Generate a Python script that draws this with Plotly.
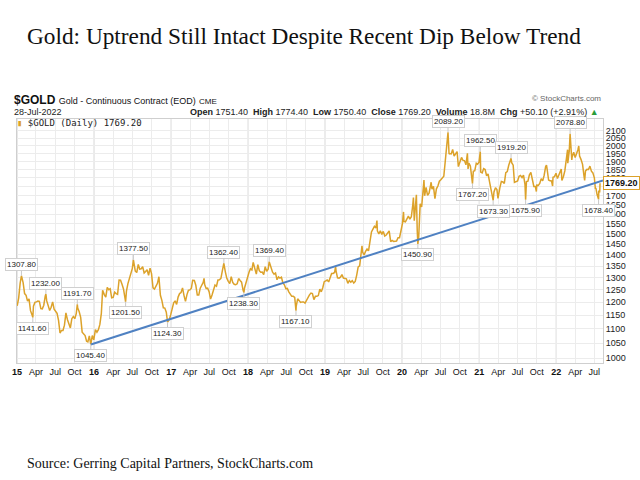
import plotly.graph_objects as go
import math

# ---------------- data ----------------
dates = [
 "2015-01-02","2015-01-09","2015-01-16","2015-01-22","2015-01-30","2015-02-06","2015-02-13","2015-02-20","2015-02-27",
 "2015-03-06","2015-03-13","2015-03-17","2015-03-20","2015-03-27","2015-04-03","2015-04-10","2015-04-17","2015-04-24",
 "2015-05-01","2015-05-08","2015-05-15","2015-05-18","2015-05-22","2015-05-29","2015-06-05","2015-06-12","2015-06-19",
 "2015-06-26","2015-07-03","2015-07-10","2015-07-17","2015-07-24","2015-07-31","2015-08-07","2015-08-14","2015-08-21",
 "2015-08-28","2015-09-04","2015-09-11","2015-09-18","2015-09-25","2015-10-02","2015-10-09","2015-10-14","2015-10-16",
 "2015-10-23","2015-10-30","2015-11-06","2015-11-13","2015-11-20","2015-11-27","2015-12-03","2015-12-10","2015-12-17",
 "2015-12-24","2015-12-31",
 "2016-01-08","2016-01-15","2016-01-22","2016-01-29","2016-02-05","2016-02-11","2016-02-19","2016-02-26","2016-03-04",
 "2016-03-11","2016-03-18","2016-03-25","2016-04-01","2016-04-08","2016-04-15","2016-04-22","2016-04-29","2016-05-06",
 "2016-05-13","2016-05-20","2016-05-30","2016-06-03","2016-06-10","2016-06-17","2016-06-24","2016-07-01","2016-07-06",
 "2016-07-08","2016-07-15","2016-07-22","2016-07-29","2016-08-05","2016-08-12","2016-08-19","2016-08-26","2016-09-02",
 "2016-09-09","2016-09-16","2016-09-23","2016-09-30","2016-10-07","2016-10-14","2016-10-21","2016-10-28","2016-11-04",
 "2016-11-11","2016-11-18","2016-11-25","2016-12-02","2016-12-09","2016-12-15","2016-12-23","2016-12-30",
 "2017-01-06","2017-01-13","2017-01-20","2017-01-27","2017-02-03","2017-02-10","2017-02-17","2017-02-24","2017-03-03",
 "2017-03-10","2017-03-17","2017-03-24","2017-03-31","2017-04-07","2017-04-13","2017-04-21","2017-04-28","2017-05-05",
 "2017-05-12","2017-05-19","2017-05-26","2017-06-02","2017-06-06","2017-06-09","2017-06-16","2017-06-23","2017-06-30",
 "2017-07-07","2017-07-14","2017-07-21","2017-07-28","2017-08-04","2017-08-11","2017-08-18","2017-08-25","2017-09-01",
 "2017-09-08","2017-09-15","2017-09-22","2017-09-29","2017-10-06","2017-10-13","2017-10-20","2017-10-27","2017-11-03",
 "2017-11-10","2017-11-17","2017-11-24","2017-12-01","2017-12-08","2017-12-12","2017-12-15","2017-12-22","2017-12-29",
 "2018-01-05","2018-01-12","2018-01-19","2018-01-25","2018-02-02","2018-02-09","2018-02-16","2018-02-23","2018-03-02",
 "2018-03-09","2018-03-16","2018-03-23","2018-03-30","2018-04-06","2018-04-11","2018-04-20","2018-04-27","2018-05-04",
 "2018-05-11","2018-05-18","2018-05-25","2018-06-01","2018-06-08","2018-06-15","2018-06-22","2018-06-29","2018-07-06",
 "2018-07-13","2018-07-20","2018-07-27","2018-08-03","2018-08-10","2018-08-16","2018-08-17","2018-08-24","2018-08-31",
 "2018-09-07","2018-09-14","2018-09-21","2018-09-28","2018-10-05","2018-10-12","2018-10-19","2018-10-26","2018-11-02",
 "2018-11-09","2018-11-16","2018-11-23","2018-11-30","2018-12-07","2018-12-14","2018-12-21","2018-12-28",
 "2019-01-04","2019-01-11","2019-01-18","2019-01-25","2019-02-01","2019-02-08","2019-02-15","2019-02-20","2019-02-22",
 "2019-03-01","2019-03-08","2019-03-15","2019-03-22","2019-03-29","2019-04-05","2019-04-12","2019-04-19","2019-04-26",
 "2019-05-03","2019-05-10","2019-05-17","2019-05-24","2019-05-31","2019-06-07","2019-06-14","2019-06-21","2019-06-25",
 "2019-06-28","2019-07-05","2019-07-12","2019-07-19","2019-07-26","2019-08-02","2019-08-09","2019-08-16","2019-08-23",
 "2019-08-30","2019-09-04","2019-09-06","2019-09-13","2019-09-20","2019-09-27","2019-10-04","2019-10-11","2019-10-18",
 "2019-10-25","2019-11-01","2019-11-08","2019-11-15","2019-11-22","2019-11-29","2019-12-06","2019-12-13","2019-12-20",
 "2019-12-27",
 "2020-01-03","2020-01-08","2020-01-10","2020-01-17","2020-01-24","2020-01-31","2020-02-07","2020-02-14","2020-02-21",
 "2020-02-24","2020-02-28","2020-03-06","2020-03-09","2020-03-13","2020-03-16","2020-03-20","2020-03-27","2020-04-03",
 "2020-04-09","2020-04-14","2020-04-17","2020-04-24","2020-05-01","2020-05-08","2020-05-15","2020-05-18","2020-05-22",
 "2020-05-29","2020-06-05","2020-06-12","2020-06-19","2020-06-26","2020-07-03","2020-07-10","2020-07-17","2020-07-24",
 "2020-07-31","2020-08-06","2020-08-11","2020-08-14","2020-08-21","2020-08-28","2020-09-04","2020-09-11","2020-09-18",
 "2020-09-24","2020-10-02","2020-10-09","2020-10-16","2020-10-23","2020-10-30","2020-11-06","2020-11-09","2020-11-13",
 "2020-11-20","2020-11-27","2020-11-30","2020-12-04","2020-12-11","2020-12-18","2020-12-24","2020-12-31",
 "2021-01-06","2021-01-08","2021-01-15","2021-01-22","2021-01-29","2021-02-05","2021-02-12","2021-02-19","2021-02-26",
 "2021-03-05","2021-03-08","2021-03-12","2021-03-19","2021-03-26","2021-03-31","2021-04-09","2021-04-16","2021-04-23",
 "2021-04-30","2021-05-07","2021-05-14","2021-05-21","2021-05-28","2021-06-01","2021-06-04","2021-06-11","2021-06-17",
 "2021-06-25","2021-07-02","2021-07-09","2021-07-16","2021-07-23","2021-07-30","2021-08-06","2021-08-09","2021-08-13",
 "2021-08-20","2021-08-27","2021-09-03","2021-09-10","2021-09-17","2021-09-24","2021-09-29","2021-10-01","2021-10-08",
 "2021-10-15","2021-10-22","2021-10-29","2021-11-05","2021-11-12","2021-11-16","2021-11-19","2021-11-26","2021-12-03",
 "2021-12-10","2021-12-15","2021-12-17","2021-12-24","2021-12-31",
 "2022-01-07","2022-01-14","2022-01-21","2022-01-25","2022-01-28","2022-02-04","2022-02-11","2022-02-18","2022-02-24",
 "2022-02-25","2022-03-04","2022-03-08","2022-03-11","2022-03-16","2022-03-18","2022-03-25","2022-04-01","2022-04-08",
 "2022-04-14","2022-04-18","2022-04-22","2022-04-29","2022-05-06","2022-05-13","2022-05-16","2022-05-20","2022-05-27",
 "2022-06-03","2022-06-10","2022-06-17","2022-06-24","2022-07-01","2022-07-06","2022-07-08","2022-07-14","2022-07-21",
 "2022-07-22","2022-07-26","2022-07-27","2022-07-28",
]
close = [
 1186,1217,1277,1307.8,1279,1234,1227,1204,1213,
 1167,1152,1141.6,1184,1199,1201,1204,1203,1175,
 1174,1188,1225,1232.0,1205,1190,1168,1180,1201,
 1173,1163,1157,1131,1085,1094,1094,1113,1159,
 1134,1121,1103,1137,1145,1137,1156,1191.7,1177,
 1163,1142,1088,1081,1076,1056,1054,1075,1045.4,
 1076,1061,
 1097,1088,1097,1116,1157,1247,1230,1220,1259,
 1250,1254,1217,1219,1240,1234,1231,1290,1289,
 1272,1253,1201.5,1244,1275,1298,1322,1340,1377.5,
 1366,1328,1322,1357,1337,1338,1347,1320,1326,
 1334,1310,1341,1317,1257,1252,1267,1276,1304,
 1227,1207,1178,1177,1161,1124.3,1133,1152,
 1173,1197,1205,1191,1220,1234,1238,1257,1226,
 1203,1230,1248,1249,1256,1289,1288,1268,1228,
 1228,1256,1268,1280,1297,1271,1255,1256,1242,
 1212,1228,1255,1269,1264,1290,1291,1297,1330,
 1362.4,1325,1297,1284,1275,1304,1280,1272,1270,
 1274,1296,1288,1281,1248,1238.3,1257,1279,1309,
 1322,1338,1333,1366,1337,1315,1356,1330,1323,
 1324,1313,1347,1327,1336,1369.4,1338,1323,1315,
 1320,1291,1303,1298,1302,1278,1270,1254,1255,
 1241,1231,1223,1223,1219,1167.1,1184,1213,1206,
 1199,1201,1201,1196,1206,1222,1229,1236,1234,
 1210,1223,1223,1226,1252,1241,1258,1283,
 1286,1290,1282,1298,1318,1318,1322,1347,1329,
 1299,1298,1302,1313,1298,1295,1295,1276,1288,
 1281,1287,1277,1284,1311,1346,1351,1400,1442,
 1413,1400,1416,1427,1419,1457,1509,1523,1537,
 1529,1566,1515,1499,1515,1497,1512,1489,1494,
 1505,1514,1462,1468,1463,1465,1465,1481,1481,
 1515,
 1552,1611,1562,1560,1572,1589,1573,1586,1649,
 1689,1566,1672,1704,1516,1450.9,1484,1654,1637,
 1752,1788,1698,1745,1700,1713,1756,1775,1735,
 1751,1683,1737,1753,1781,1790,1801,1810,1902,
 1986,2089.2,1946,1949,1947,1975,1934,1947,1962,
 1868,1907,1925,1906,1905,1879,1951,1854,1889,
 1872,1788,1767.2,1840,1843,1888,1883,1895,
 1962.5,1835,1830,1856,1850,1813,1824,1777,1734,
 1700,1673.3,1720,1744,1733,1684,1744,1780,1777,
 1768,1831,1838,1876,1905,1919.2,1892,1877,1774,
 1781,1783,1810,1815,1802,1817,1763,1675.9,1779,
 1781,1819,1833,1791,1751,1751,1722,1758,1757,
 1768,1796,1783,1816,1868,1877,1852,1788,1783,
 1782,1753,1804,1808,1828,
 1797,1817,1831,1853,1786,1807,1842,1898,1974,
 1889,1966,2078.8,1985,1909,1929,1958,1924,1945,
 1974,1998,1934,1911,1882,1811,1786,1842,1851,
 1850,1871,1840,1830,1801,1736,1742,1705,1678.4,
 1727,1717,1735,1769.2,
]

# labelled highs (+1) and lows (-1)
label_dates = ["2015-01-22","2015-05-18","2015-03-17","2015-10-14","2015-12-17","2016-05-30","2016-07-06",
               "2016-12-15","2017-09-08","2017-12-12","2018-04-11","2018-08-16","2020-03-16","2020-08-06",
               "2020-11-30","2021-01-06","2021-06-01","2021-03-08","2021-08-09","2022-03-08","2022-07-21"]
label_values = [1307.8,1232.0,1141.6,1191.7,1045.4,1201.5,1377.5,1124.3,1362.4,1238.3,1369.4,1167.1,
                1450.9,2089.2,1767.2,1962.5,1919.2,1673.3,1675.9,2078.8,1678.4]
label_side = [1,1,-1,1,-1,-1,1,-1,1,-1,1,-1,-1,1,-1,1,1,-1,-1,1,-1]

trend_dates = ["2015-12-17", "2022-08-11"]
trend_values = [1045.0, 1785.0]

ytick_vals = list(range(1000, 2101, 50))
ytick_hidden = [1750]   # covered by the last-price tag in the original
year_starts = ["2015-01-01","2016-01-01","2017-01-01","2018-01-01","2019-01-01","2020-01-01","2021-01-01","2022-01-01"]
year_labels = ["15","16","17","18","19","20","21","22"]
quarter_months = ["04","07","10"]
quarter_labels = ["Apr","Jul","Oct"]

last_close = 1769.20

# ---------------- layout geometry ----------------
W, H = 640, 480
L, R, T, B = 13, 37, 119, 117
PW, PH = W - L - R, H - T - B

def px(x):
    return (x - L) / PW

def py(y):
    return (H - B - y) / PH

GOLD = "#dca22a"
BLUE = "#4f81c2"

fig = go.Figure()

fig.add_trace(go.Scatter(x=dates, y=close, mode="lines",
                         line=dict(color=GOLD, width=1.5), hoverinfo="skip"))
fig.add_trace(go.Scatter(x=trend_dates, y=trend_values, mode="lines",
                         line=dict(color=BLUE, width=2), hoverinfo="skip"))

# x ticks: years bold, quarters plain
tickvals, ticktext = [], []
for ys, yl in zip(year_starts, year_labels):
    tickvals.append(ys)
    ticktext.append("<b>" + yl + "</b>")
    for qm, ql in zip(quarter_months, quarter_labels):
        d = ys[:5] + qm + "-01"
        if d <= "2022-08-01":
            tickvals.append(d)
            ticktext.append(ql)

shapes = []
for ys in year_starts:
    shapes.append(dict(type="line", xref="x", yref="paper", x0=ys, x1=ys, y0=0, y1=1,
                       line=dict(color="#d2d2d2", width=1), layer="below"))

annotations = []
# value callouts
for d, v, s in zip(label_dates, label_values, label_side):
    annotations.append(dict(x=d, y=math.log10(v), xref="x", yref="y",
                            text="%.2f" % v, showarrow=True, arrowhead=0, arrowwidth=1,
                            arrowcolor="#c8c8c8", ax=0, ay=-11 if s > 0 else 11,
                            font=dict(family="Liberation Sans", size=8, color="#222"),
                            bgcolor="white", bordercolor="#d0d0d0", borderwidth=1, borderpad=1))

# last price tag
annotations.append(dict(x=1.0, y=math.log10(last_close), xref="paper", yref="y",
                        xanchor="left", yanchor="middle", xshift=0,
                        text="<b>%.2f</b>" % last_close, showarrow=False,
                        font=dict(family="Liberation Sans", size=9, color="#111"),
                        bgcolor="white", bordercolor=GOLD, borderwidth=1, borderpad=1))

# title and source
annotations.append(dict(x=px(21), y=py(36), xref="paper", yref="paper", xanchor="left", yanchor="middle",
                        text="Gold: Uptrend Still Intact Despite Recent Dip Below Trend", showarrow=False,
                        font=dict(family="Liberation Serif", size=23.3, color="#111")))
annotations.append(dict(x=px(21), y=py(463), xref="paper", yref="paper", xanchor="left", yanchor="middle",
                        text="Source: Gerring Capital Partners, StockCharts.com", showarrow=False,
                        font=dict(family="Liberation Serif", size=14, color="#111")))

# StockCharts header
annotations.append(dict(x=px(8), y=py(100), xref="paper", yref="paper", xanchor="left", yanchor="middle",
                        text="<b>$GOLD</b> <span style='font-size:9px'>Gold - Continuous Contract (EOD)</span> <span style='font-size:8px'>CME</span>",
                        showarrow=False, font=dict(family="Liberation Sans", size=12, color="#111")))
annotations.append(dict(x=px(8), y=py(112), xref="paper", yref="paper", xanchor="left", yanchor="middle",
                        text="28-Jul-2022", showarrow=False,
                        font=dict(family="Liberation Sans", size=9, color="#222")))
annotations.append(dict(x=px(601), y=py(112), xref="paper", yref="paper", xanchor="right", yanchor="middle",
                        text="<b>Open</b> 1751.40  <b>High</b> 1774.40  <b>Low</b> 1750.40  <b>Close</b> 1769.20  "
                             "<b>Volume</b> 18.8M  <b>Chg</b> +50.10 (+2.91%) <span style='color:#2a9d3a'>▲</span>",
                        showarrow=False, font=dict(family="Liberation Sans", size=9, color="#222")))
annotations.append(dict(x=px(603), y=py(99), xref="paper", yref="paper", xanchor="right", yanchor="middle",
                        text="© StockCharts.com", showarrow=False,
                        font=dict(family="Liberation Sans", size=8, color="#666")))
annotations.append(dict(x=px(11), y=py(123), xref="paper", yref="paper", xanchor="left", yanchor="middle",
                        text="<span style='color:%s'>▮</span> $GOLD (Daily) 1769.20" % GOLD, showarrow=False,
                        font=dict(family="DejaVu Sans Mono", size=9, color="#222")))

fig.update_layout(
    width=W, height=H,
    margin=dict(l=L, r=R, t=T, b=B, pad=0),
    paper_bgcolor="white", plot_bgcolor="white",
    showlegend=False,
    shapes=shapes,
    annotations=annotations,
    xaxis=dict(type="date", range=["2015-01-01", "2022-08-11"],
               tickvals=tickvals, ticktext=ticktext, tickangle=0,
               showgrid=True, gridcolor="#ececec", gridwidth=1,
               ticks="", tickfont=dict(family="Liberation Sans", size=9, color="#111"),
               showline=True, linecolor="#cfcfcf", mirror=True, zeroline=False),
    yaxis=dict(type="log", side="right", range=[math.log10(983.8), math.log10(2182)],
               tickvals=ytick_vals,
               ticktext=["" if v in ytick_hidden else str(v) for v in ytick_vals],
               showgrid=True, gridcolor="#ececec", gridwidth=1,
               ticks="", ticklen=0, tickfont=dict(family="Liberation Sans", size=9, color="#222"),
               showline=True, linecolor="#cfcfcf", mirror=True, zeroline=False),
)

fig.write_html("out.html")
